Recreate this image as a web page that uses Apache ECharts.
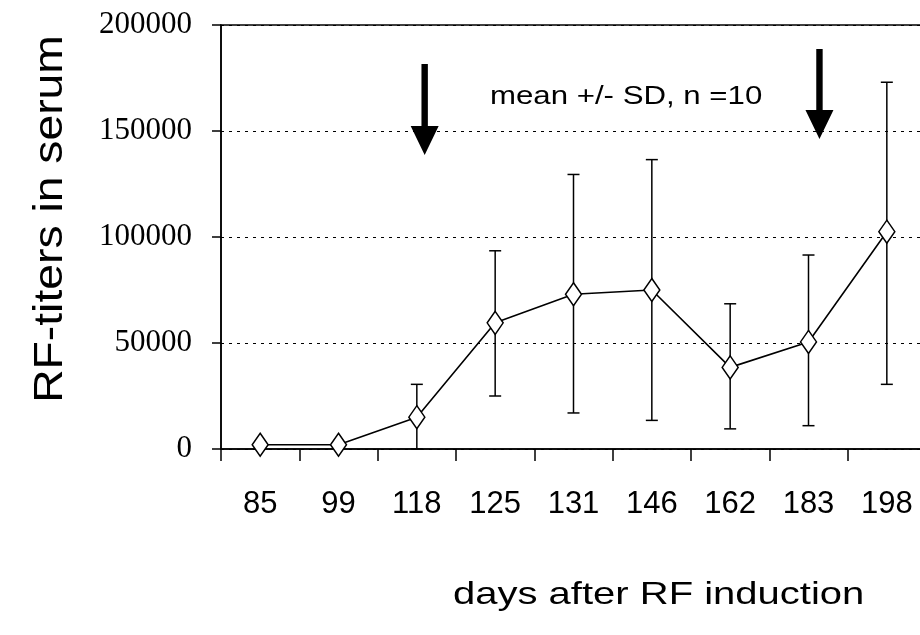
<!DOCTYPE html>
<html>
<head>
<meta charset="utf-8">
<script src="https://cdn.jsdelivr.net/npm/echarts@6/dist/echarts.min.js"></script>
<style>html,body{margin:0;padding:0;background:#fff;}#c{width:920px;height:635px;}</style>
</head>
<body>
<div id="c"></div>
<script>
// ---- data ----
const categories = ['85', '99', '118', '125', '131', '146', '162', '183', '198'];
const meanValues = [2000, 2000, 15000, 59500, 73000, 75000, 38500, 50500, 102500];
const sdLow      = [2000, 2000, 0, 25000, 17000, 13500, 9500, 11000, 30500];
const sdHigh     = [2000, 2000, 30500, 93500, 129500, 136500, 68500, 91500, 173000];
const yMin = 0, yMax = 200000, yInterval = 50000;
const yTitle = 'RF-titers in serum';
const xTitle = 'days after RF induction';
const noteText = 'mean +/- SD, n =10';
// arrows: category index (fractional), shaft-top value, tip value
const arrowCat = [2.1, 7.14];
const arrowTop = [181600, 188700];
const arrowTip = [138700, 146200];

const chart = echarts.init(document.getElementById('c'), null, {renderer: 'canvas'});

const option = {
  animation: false,
  backgroundColor: '#fff',
  grid: {
    left: 221, top: 25, width: 705, height: 424,
    show: true, borderColor: '#000', borderWidth: 1.5, backgroundColor: 'transparent',
    containLabel: false, outerBoundsMode: 'none'
  },
  xAxis: {
    type: 'category',
    data: categories,
    boundaryGap: true,
    axisLine: {show: true, lineStyle: {color: '#000', width: 1.5}},
    axisTick: {show: true, inside: false, length: 12, lineStyle: {color: '#000', width: 1.5}},
    axisLabel: {
      color: '#000', fontSize: 31, margin: 40,
      fontFamily: '"Liberation Sans", Arial, sans-serif'
    },
    splitLine: {show: false}
  },
  yAxis: {
    type: 'value',
    min: yMin, max: yMax, interval: yInterval,
    axisLine: {show: true, lineStyle: {color: '#000', width: 1.5}},
    axisTick: {show: true, inside: false, length: 9, lineStyle: {color: '#000', width: 1.5}},
    axisLabel: {
      color: '#000', fontSize: 31, margin: 29,
      fontFamily: '"Liberation Serif", "Times New Roman", serif',
      formatter: function (v) { return String(v); }
    },
    splitLine: {show: true, lineStyle: {color: '#000', width: 1.2, type: [3, 5]}}
  },
  series: [
    {
      type: 'custom',
      name: 'SD',
      z: 2,
      data: categories.map((c, i) => [i, sdLow[i], sdHigh[i]]),
      renderItem: function (params, api) {
        const idx = api.value(0);
        const lo = api.coord([idx, api.value(1)]);
        const hi = api.coord([idx, api.value(2)]);
        if (Math.abs(hi[1] - lo[1]) < 1) return {type: 'group', children: []};
        const w = 6;
        const st = {stroke: '#000', lineWidth: 1.5};
        return {
          type: 'group',
          children: [
            {type: 'line', shape: {x1: lo[0], y1: lo[1], x2: hi[0], y2: hi[1]}, style: st},
            {type: 'line', shape: {x1: hi[0] - w, y1: hi[1], x2: hi[0] + w, y2: hi[1]}, style: st},
            {type: 'line', shape: {x1: lo[0] - w, y1: lo[1], x2: lo[0] + w, y2: lo[1]}, style: st}
          ]
        };
      }
    },
    {
      type: 'line',
      name: 'mean',
      z: 3,
      data: meanValues,
      symbol: 'diamond',
      symbolSize: [16, 23],
      showAllSymbol: true,
      lineStyle: {color: '#000', width: 1.6},
      itemStyle: {color: '#fff', borderColor: '#000', borderWidth: 1.5},
      emphasis: {disabled: true}
    }
  ]
};
chart.setOption(option);

// annotations positioned through the axes' own scales
const graphics = [];
for (let k = 0; k < arrowCat.length; k++) {
  const i0 = Math.floor(arrowCat[k]);
  const f = arrowCat[k] - i0;
  const a0 = chart.convertToPixel({gridIndex: 0}, [i0, arrowTop[k]]);
  const a1 = chart.convertToPixel({gridIndex: 0}, [i0 + 1, arrowTop[k]]);
  const x = a0[0] + f * (a1[0] - a0[0]);
  const yTop = a0[1];
  const yTip = chart.convertToPixel({gridIndex: 0}, [i0, arrowTip[k]])[1];
  const headLen = 29, headHalf = 14, shaftHalf = 3.2;
  graphics.push({
    type: 'polygon', z: 10,
    shape: {points: [
      [x - shaftHalf, yTop], [x + shaftHalf, yTop], [x + shaftHalf, yTip - headLen],
      [x + headHalf, yTip - headLen], [x, yTip], [x - headHalf, yTip - headLen],
      [x - shaftHalf, yTip - headLen]
    ]},
    style: {fill: '#000'}
  });
}
graphics.push({
  type: 'text', z: 10, x: 490, y: 97, scaleX: 1.2,
  style: {text: noteText, fontSize: 26, fontFamily: '"Liberation Sans", Arial, sans-serif',
          fill: '#000', textAlign: 'left', align: 'left', textVerticalAlign: 'middle', verticalAlign: 'middle'}
});
graphics.push({
  type: 'text', z: 10, x: 453, y: 595, scaleX: 1.25,
  style: {text: xTitle, fontSize: 32, fontFamily: '"Liberation Sans", Arial, sans-serif',
          fill: '#000', textAlign: 'left', align: 'left', textVerticalAlign: 'middle', verticalAlign: 'middle'}
});
graphics.push({
  type: 'text', z: 10, x: 51, y: 219, rotation: Math.PI / 2, scaleX: 1.157,
  style: {text: yTitle, fontSize: 40, fontFamily: '"Liberation Sans", Arial, sans-serif',
          fill: '#000', textAlign: 'center', align: 'center', textVerticalAlign: 'middle', verticalAlign: 'middle'}
});
chart.setOption({graphic: {elements: graphics}});
</script>
</body>
</html>
